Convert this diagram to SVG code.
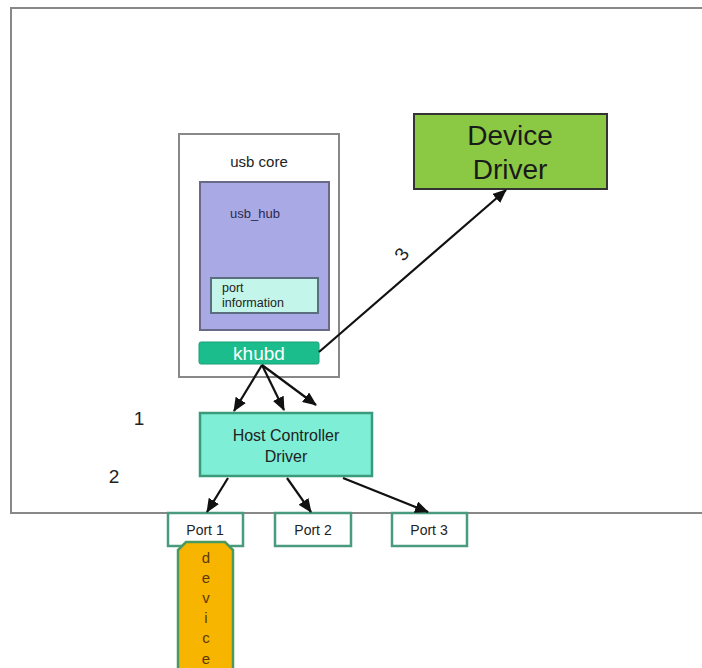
<svg xmlns="http://www.w3.org/2000/svg" width="702" height="668" viewBox="0 0 702 668">
<style>
text{font-family:"Liberation Sans",Arial,sans-serif}
.conn{stroke:#111;stroke-width:2.2;fill:none;marker-end:url(#ah)}
.port rect{fill:#fff;stroke:#4a9a80;stroke-width:2.5}
.port text{font-size:14px;fill:#222;text-anchor:middle}
</style>
<defs>
<marker id="ah" markerWidth="14" markerHeight="12" refX="13" refY="6" orient="auto" markerUnits="userSpaceOnUse" viewBox="0 0 14 12">
<path d="M0,0 L14,6 L0,12 Z" fill="#111"/>
</marker>
</defs>
<rect width="702" height="668" fill="#fff"/>
<g id="frame"><rect x="11" y="8" width="720" height="505" fill="none" stroke="#888" stroke-width="2"/></g>
<g id="usb-core">
<rect x="179" y="134" width="160" height="243" fill="#fff" stroke="#888" stroke-width="2"/>
<text x="259" y="167" font-size="15" text-anchor="middle" fill="#222">usb core</text>
</g>
<g id="usb-hub">
<rect x="200" y="182" width="129" height="148" fill="#a9a9e6" stroke="#6a6a88" stroke-width="2"/>
<text x="255" y="218" font-size="13" text-anchor="middle" fill="#2a2a4a">usb_hub</text>
</g>
<g id="port-information">
<rect x="211" y="278" width="107" height="35" fill="#c4f5ea" stroke="#5a6e80" stroke-width="2"/>
<text x="222" y="292" font-size="12.5" fill="#222">port</text>
<text x="222" y="307" font-size="12.5" fill="#222">information</text>
</g>
<g id="khubd">
<rect x="199" y="342" width="120" height="22" rx="2" fill="#1cbd8c" stroke="#18a078" stroke-width="1"/>
<text x="259" y="360" font-size="19" text-anchor="middle" fill="#fff">khubd</text>
</g>
<g id="device-driver">
<rect x="414" y="114" width="193" height="75" fill="#8bc944" stroke="#333" stroke-width="2"/>
<text x="510" y="145" font-size="28" text-anchor="middle" fill="#1a1a1a">Device</text>
<text x="510" y="179" font-size="28" text-anchor="middle" fill="#1a1a1a">Driver</text>
</g>
<g id="host-controller-driver">
<rect x="200" y="413" width="172" height="63" fill="#7eeed6" stroke="#3a9a7a" stroke-width="2.5"/>
<text x="286" y="441" font-size="16" text-anchor="middle" fill="#222">Host Controller</text>
<text x="286" y="462" font-size="16" text-anchor="middle" fill="#222">Driver</text>
</g>
<g id="port-1" class="port"><rect x="168" y="513" width="75" height="33"/><text x="205" y="535">Port 1</text></g>
<g id="port-2" class="port"><rect x="275" y="513" width="76" height="33"/><text x="313" y="535">Port 2</text></g>
<g id="port-3" class="port"><rect x="392" y="513" width="75" height="33"/><text x="429" y="535">Port 3</text></g>
<g id="device">
<path d="M186,542 L225,542 L233,550 L233,670 L178,670 L178,550 Z" fill="#f7b500" stroke="#4a9a60" stroke-width="2.5"/>
<g font-size="15" text-anchor="middle" fill="#5a3a00">
<text x="206" y="563">d</text>
<text x="206" y="583">e</text>
<text x="206" y="603">v</text>
<text x="206" y="623">i</text>
<text x="206" y="643">c</text>
<text x="206" y="664">e</text>
</g>
</g>
<g id="labels" fill="#222">
<text x="139" y="425" font-size="19" text-anchor="middle">1</text>
<text x="114" y="483" font-size="19" text-anchor="middle">2</text>
<text x="0" y="0" font-size="19" text-anchor="middle" transform="translate(407,258) rotate(-55)">3</text>
</g>
<g id="connectors">
<line class="conn" x1="262" y1="365" x2="234" y2="411"/>
<line class="conn" x1="262" y1="365" x2="284" y2="410"/>
<line class="conn" x1="262" y1="365" x2="316" y2="405"/>
<line class="conn" x1="228" y1="478" x2="207" y2="512"/>
<line class="conn" x1="287" y1="478" x2="311" y2="512"/>
<line class="conn" x1="343" y1="478" x2="428" y2="512"/>
<line class="conn" x1="319" y1="352" x2="506" y2="190"/>
</g>
</svg>
